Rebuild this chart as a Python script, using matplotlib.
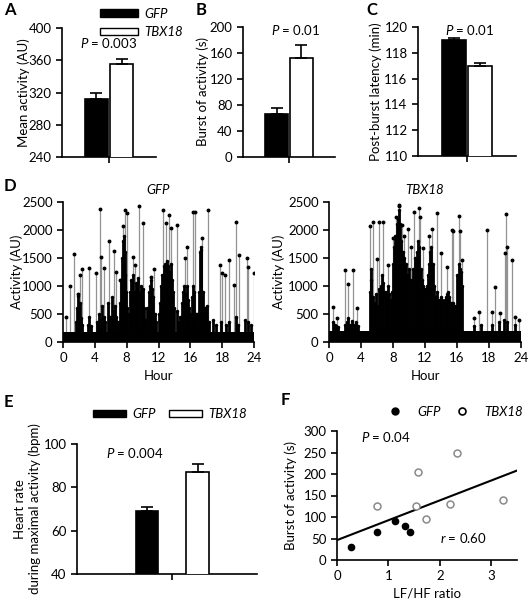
import matplotlib
matplotlib.use("Agg")
import matplotlib.pyplot as plt
import numpy as np
from matplotlib.patches import Patch
from matplotlib.lines import Line2D

plt.rcParams['font.family'] = ['Lato', 'DejaVu Sans']
plt.rcParams['font.size'] = 9
plt.rcParams['mathtext.fontset'] = 'custom'
plt.rcParams['mathtext.it'] = 'Lato:italic'
plt.rcParams['mathtext.rm'] = 'Lato'
plt.rcParams['axes.linewidth'] = 1.2
plt.rcParams['xtick.major.width'] = 1.2
plt.rcParams['ytick.major.width'] = 1.2
plt.rcParams['xtick.major.size'] = 4
plt.rcParams['ytick.major.size'] = 4

# ---- data ----
groups = ["GFP", "TBX18"]
mean_activity = [312, 355]
mean_activity_err = [8, 7]
burst = [66, 153]
burst_err = [10, 20]
latency = [119.0, 117.0]
latency_err = [0.15, 0.2]
hr_max = [69, 87]
hr_max_err = [2, 4]

# panel D: baseline level, dense black activity (h, level), isolated grey spikes (h, peak)
gfp_base = 170
gfp_dense_h = [1.6, 1.75, 1.9, 2.0, 2.15, 2.3, 2.45, 3.1, 3.3, 3.5,
               4.3, 4.5, 4.7, 4.9, 5.1, 5.3, 5.7, 5.9, 6.1, 6.3, 6.5, 6.7, 6.9,
               7.2, 7.35, 7.45, 7.55, 7.65, 7.75, 7.85, 7.95, 8.1, 8.25,
               8.4, 8.55, 8.7, 8.85, 9.0, 9.15, 9.3, 9.45, 9.6, 9.75, 9.9, 10.05, 10.2, 10.35,
               10.6, 10.75, 10.9, 11.05, 11.2, 11.35, 11.5, 11.7, 12.0, 12.2,
               12.35, 12.5, 12.65, 12.8, 12.95, 13.1, 13.25, 13.4, 13.55, 13.7, 13.85, 14.0,
               14.3, 14.5, 14.7, 14.95, 15.1, 15.25, 15.4, 15.55, 15.7, 15.85, 16.0,
               16.2, 16.35, 16.5, 16.65, 16.9, 17.05, 17.2, 17.3, 17.4, 17.55, 17.7,
               17.85, 18.0, 18.15, 18.3, 18.9, 19.2, 19.8, 20.5, 20.9, 21.7, 22.0, 22.9, 23.2, 23.6]
gfp_dense_y = [350, 600, 820, 500, 700, 420, 300, 300, 450, 280,
               350, 500, 400, 650, 450, 350, 700, 450, 800, 550, 650, 450, 350,
               700, 1100, 1500, 1800, 1900, 1600, 1200, 900, 600, 500,
               900, 1100, 1000, 1200, 900, 1050, 1000, 1150, 900, 1000, 800, 950, 600, 400,
               600, 900, 1000, 1100, 950, 800, 500, 350, 500, 700,
               1000, 1200, 1350, 1400, 1300, 1450, 1350, 1250, 1400, 1100, 900, 600,
               550, 350, 450, 700, 900, 1000, 850, 1000, 750, 600, 500,
               800, 1000, 900, 500, 500, 900, 1600, 1700, 1650, 900, 500,
               600, 450, 650, 350, 400, 300, 350, 300, 350, 450, 300, 400, 350, 300]
gfp_spike_h = [0.4, 0.9, 1.35, 1.9, 2.1, 2.4, 3.3, 4.2, 4.7, 4.8, 5.2, 5.8, 6.4, 6.7, 7.2, 7.5, 7.8, 8.0,
               8.8, 9.1, 9.6, 10.0, 11.1, 11.4, 12.6, 13.0, 13.3, 13.6, 14.3, 15.3, 15.6, 16.3, 16.6, 17.5,
               18.2, 19.7, 20.0, 20.3, 20.8, 21.5, 21.8, 22.1, 23.1, 23.3, 23.95]
gfp_spike_y = [450, 1000, 1570, 855, 1195, 1300, 1330, 1240, 2375, 1510, 1330, 1795, 1630, 1255, 1105, 2075, 2350, 2300,
               1515, 1375, 2420, 2125, 1165, 1300, 2360, 2120, 2270, 2030, 2090, 1495, 1690, 2330, 2315, 1855,
               2350, 1375, 1240, 1190, 1465, 1015, 2140, 1555, 1495, 1345, 1225]

tbx_base = 200
tbx_dense_h = [0.5, 0.7, 0.9, 1.1, 2.0, 2.2, 2.4, 2.6, 2.9, 3.1, 3.4, 3.6,
               5.1, 5.2, 5.3, 5.45, 5.6, 5.75, 5.9, 6.05, 6.2, 6.35, 6.5, 6.65, 6.8, 6.95, 7.1, 7.25, 7.4,
               7.55, 7.7, 7.85,
               8.0, 8.15, 8.3, 8.45, 8.6, 8.75, 8.9, 9.05, 9.2, 9.35, 9.5, 9.65, 9.8, 9.95, 10.1, 10.25, 10.4,
               10.55, 10.7, 10.85, 11.0, 11.15, 11.3, 11.45, 11.6, 11.75, 11.9, 12.05, 12.2,
               12.35, 12.5, 12.65, 12.8, 12.95, 13.1, 13.25,
               13.4, 13.55, 13.7, 13.85, 14.0, 14.15, 14.3, 14.45, 14.6, 14.75, 14.9, 15.05, 15.2, 15.35,
               15.5, 15.65, 15.8, 15.95,
               16.05, 16.2, 16.35, 16.5, 16.65, 18.1, 19.0, 20.4, 21.2, 21.9, 22.2, 23.2]
tbx_dense_y = [350, 300, 280, 260, 300, 350, 420, 300, 380, 300, 350, 280,
               900, 1300, 1100, 800, 600, 700, 850, 650, 950, 800, 1000, 1200, 1050, 900, 750, 900, 1000,
               850, 750, 900,
               1400, 1700, 1900, 2100, 2200, 2350, 2100, 1800, 1600, 1500, 1300, 1400, 1200, 1300, 1100, 1000, 1100,
               1300, 1500, 1400, 1600, 1800, 1700, 1300, 1100, 1000, 900, 950, 1000,
               1200, 1400, 1600, 1700, 1400, 1000, 800,
               800, 900, 750, 700, 800, 750, 700, 750, 800, 850, 900, 800, 700, 650,
               700, 600, 650, 550,
               1200, 1400, 1300, 1250, 1000, 280, 300, 300, 350, 400, 350, 300]
tbx_spike_h = [0.55, 1.0, 2.05, 2.35, 2.95, 3.45, 5.15, 5.5, 6.0, 6.3, 6.8, 7.4, 8.0, 8.4, 8.7, 8.8, 9.1, 9.4,
               9.85, 10.2, 10.65, 11.2, 11.4, 11.8, 12.45, 12.85, 13.55, 14.0, 14.7, 15.35, 15.5, 16.2, 16.4,
               16.6, 18.1, 18.7, 19.75, 20.35, 20.8, 21.4, 22.0, 22.1, 22.3, 22.85, 23.3, 23.7]
tbx_spike_y = [630, 420, 1285, 1030, 1285, 600, 2075, 2135, 1475, 2135, 2135, 1375, 1855, 2230, 2450, 2435, 2095, 1885,
               2020, 1705, 2315, 2390, 2240, 1675, 1885, 2015, 2300, 1585, 1345, 2005, 1975, 2245, 1975,
               1465, 420, 540, 1995, 540, 985, 510, 1585, 2290, 1705, 1465, 450, 390]
hour_ticks = [0, 4, 8, 12, 16, 20, 24]
hour_labels = ["0", "4", "8", "12", "16", "18", "24"]

# panel F
gfp_lfhf = [0.27, 0.77, 1.12, 1.33, 1.41]
gfp_burst_pts = [30, 65, 90, 80, 65]
tbx_lfhf = [0.78, 1.57, 1.54, 1.74, 2.2, 2.33, 3.22]
tbx_burst_pts = [125, 205, 125, 95, 130, 250, 140]

W, H = 528, 600
FS = 9.5
fig = plt.figure(figsize=(W / 100, H / 100), dpi=100)


def box(l, t, r, b):
    return [l / W, 1 - b / H, (r - l) / W, (b - t) / H]


def clean(ax):
    ax.spines['top'].set_visible(False)
    ax.spines['right'].set_visible(False)
    ax.tick_params(labelsize=FS)


def bar_panel(rect, vals, errs, ylim, yticks, ylabel, lab_x):
    ax = fig.add_axes(rect)
    ax.bar([-0.27, 0.27], vals, width=0.5, color=['black', 'white'], edgecolor='black', lw=1.2,
           yerr=[[0, 0], errs], capsize=4, error_kw=dict(lw=1.2, capthick=1.2), zorder=3)
    ax.set_xlim(-1, 1)
    ax.set_ylim(*ylim)
    ax.set_yticks(yticks)
    ax.set_xticks([0])
    ax.set_xticklabels([])
    ax.set_ylabel(ylabel, fontsize=FS)
    ax.yaxis.set_label_coords(lab_x, 0.5)
    clean(ax)
    return ax


axA = bar_panel(box(62, 28, 156, 157), mean_activity, mean_activity_err, (240, 400),
                [240, 280, 320, 360, 400], "Mean activity (AU)", -0.34)
axA.text(0.5, 0.88, r"$\it{P}$ = 0.003", transform=axA.transAxes, ha='center', va='center', fontsize=FS)
axA.legend(handles=[Patch(facecolor='black', edgecolor='black', label='GFP'),
                    Patch(facecolor='white', edgecolor='black', label='TBX18')],
           loc='upper left', bbox_to_anchor=(93 / W, 1 - 1 / H), bbox_transform=fig.transFigure,
           frameon=False, prop={'style': 'italic', 'size': FS}, handlelength=2.9, handleheight=0.5,
           labelspacing=0.5, borderpad=0, handletextpad=0.5)

axB = bar_panel(box(243, 27, 335, 157), burst, burst_err, (0, 200),
                [0, 40, 80, 120, 160, 200], "Burst of activity (s)", -0.37)
axB.text(0.57, 0.98, r"$\it{P}$ = 0.01", transform=axB.transAxes, ha='center', va='center', fontsize=FS)

axC = bar_panel(box(418, 27, 516, 156), latency, latency_err, (110, 120),
                [110, 112, 114, 116, 118, 120], "Post-burst latency (min)", -0.37)
axC.text(0.53, 0.98, r"$\it{P}$ = 0.01", transform=axC.transAxes, ha='center', va='center', fontsize=FS)


def activity_panel(rect, base, dh, dy, sh, sy, title, lab_x):
    ax = fig.add_axes(rect)
    ax.vlines(sh, 0, sy, color='#929292', lw=0.9, zorder=2)
    ax.plot(sh, sy, 'o', color='black', ms=1.8, zorder=4)
    ax.vlines(dh, 0, dy, color='black', lw=2.0, zorder=3)
    ax.plot(dh, dy, 'o', color='black', ms=1.5, zorder=4)
    ax.bar([0], [base], width=24, align='edge', color='black', lw=0, zorder=3)
    ax.set_xlim(0, 24)
    ax.set_ylim(0, 2500)
    ax.set_yticks([0, 500, 1000, 1500, 2000, 2500])
    ax.set_xticks(hour_ticks)
    ax.set_xticklabels(hour_labels)
    ax.set_xlabel("Hour", fontsize=FS)
    ax.set_ylabel("Activity (AU)", fontsize=FS)
    ax.yaxis.set_label_coords(lab_x, 0.5)
    ax.set_title(title, style='italic', fontsize=FS, pad=6)
    clean(ax)
    return ax


axD1 = activity_panel(box(63, 202, 254, 342), gfp_base, gfp_dense_h, gfp_dense_y,
                      gfp_spike_h, gfp_spike_y, "GFP", -0.21)
axD2 = activity_panel(box(329, 202, 521, 342), tbx_base, tbx_dense_h, tbx_dense_y,
                      tbx_spike_h, tbx_spike_y, "TBX18", -0.23)

# E
axE = fig.add_axes(box(77, 444, 257, 574))
axE.bar([0.39, 0.67], hr_max, width=0.125, color=['black', 'white'], edgecolor='black', lw=1.2,
        yerr=[[0, 0], hr_max_err], capsize=4, error_kw=dict(lw=1.2, capthick=1.2), zorder=3)
axE.set_xlim(0, 1)
axE.set_ylim(40, 100)
axE.set_yticks([40, 60, 80, 100])
axE.set_xticks([0.53])
axE.set_xticklabels([])
axE.set_ylabel("Heart rate\nduring maximal activity (bpm)", fontsize=FS)
axE.yaxis.set_label_coords(-0.2, 0.5)
clean(axE)
axE.text(0.32, 0.93, r"$\it{P}$ = 0.004", transform=axE.transAxes, ha='center', va='center', fontsize=FS)
axE.legend(handles=[Patch(facecolor='black', edgecolor='black', label='GFP'),
                    Patch(facecolor='white', edgecolor='black', label='TBX18')],
           loc='center left', bbox_to_anchor=(86 / W, 1 - 414 / H), bbox_transform=fig.transFigure,
           ncol=2, frameon=False, prop={'style': 'italic', 'size': FS}, handlelength=2.5, handleheight=0.5,
           borderpad=0, handletextpad=0.5, columnspacing=1.0)

# F
axF = fig.add_axes(box(337, 431, 517, 560))
axF.plot(gfp_lfhf, gfp_burst_pts, 'o', color='black', ms=4.5, zorder=3)
axF.plot(tbx_lfhf, tbx_burst_pts, 'o', mfc='white', mec='#8a8a8a', mew=1.1, ms=5, zorder=3)
all_x = np.array(gfp_lfhf + tbx_lfhf)
all_y = np.array(gfp_burst_pts + tbx_burst_pts)
slope, icpt = np.polyfit(all_x, all_y, 1)
xx = np.array([0, 3.5])
axF.plot(xx, icpt + slope * xx, color='black', lw=1.5, zorder=2)
axF.set_xlim(0, 3.5)
axF.set_ylim(0, 300)
axF.set_xticks([0, 1, 2, 3])
axF.set_yticks([0, 50, 100, 150, 200, 250, 300])
axF.set_xlabel("LF/HF ratio", fontsize=FS)
axF.set_ylabel("Burst of activity (s)", fontsize=FS)
axF.yaxis.set_label_coords(-0.22, 0.5)
clean(axF)
axF.text(0.27, 0.95, r"$\it{P}$ = 0.04", transform=axF.transAxes, ha='center', va='center', fontsize=FS)
axF.text(0.70, 0.17, r"$\it{r}$ = 0.60", transform=axF.transAxes, ha='center', va='center', fontsize=FS)
axF.legend(handles=[Line2D([], [], marker='o', ls='', color='black', ms=5, label='GFP'),
                    Line2D([], [], marker='o', ls='', mfc='white', mec='black', mew=1.2, ms=5, label='TBX18')],
           loc='center left', bbox_to_anchor=(382 / W, 1 - 412 / H), bbox_transform=fig.transFigure,
           ncol=2, frameon=False, prop={'style': 'italic', 'size': FS}, handlelength=1.0,
           borderpad=0, handletextpad=1.2, columnspacing=1.1)

# panel letters
for lab, x, y in [("A", 4, 10), ("B", 196, 10), ("C", 366, 10), ("D", 4, 186), ("E", 4, 402), ("F", 281, 400)]:
    fig.text(x / W, 1 - y / H, lab, fontsize=12, fontweight='bold', ha='left', va='center')

fig.savefig("out.png", dpi=100)
